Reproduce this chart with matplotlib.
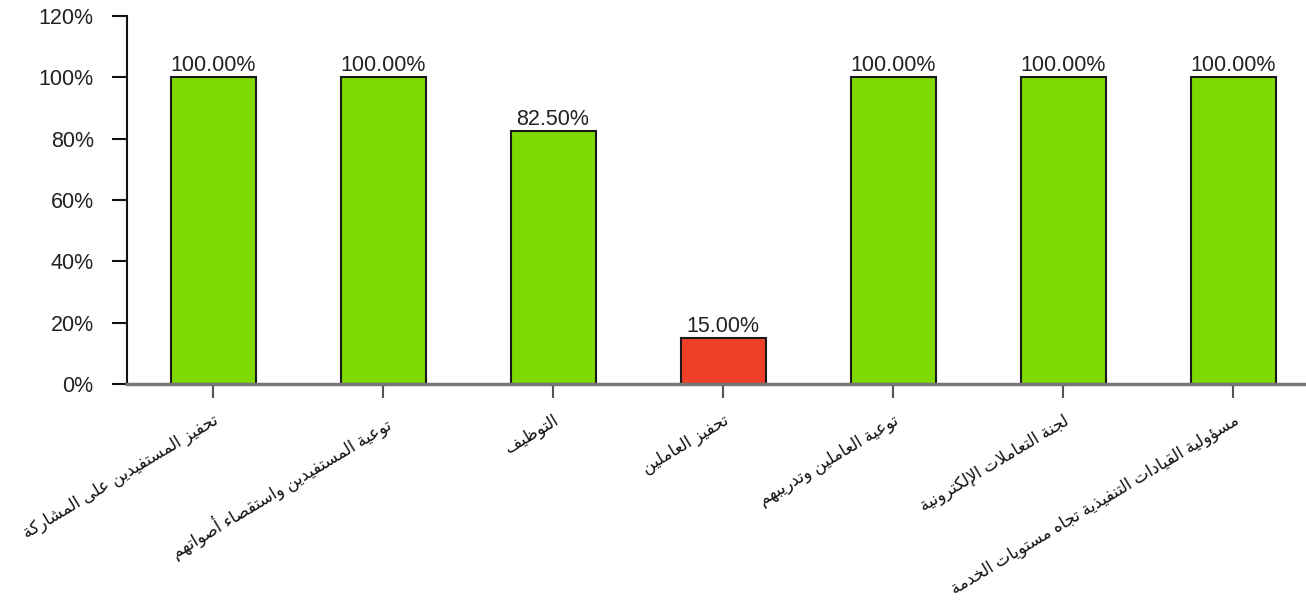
import matplotlib
matplotlib.use("Agg")
import matplotlib.pyplot as plt
import numpy as np

plt.rcParams['font.family'] = ['Liberation Sans', 'DejaVu Sans']

# data
categories = [
    'تحفيز المستفيدين على المشاركة',
    'توعية المستفيدين واستقصاء أصواتهم',
    'التوظيف',
    'تحفيز العاملين',
    'توعية العاملين وتدريبهم',
    'لجنة التعاملات الإلكترونية',
    'مسؤولية القيادات التنفيذية تجاه مستويات الخدمة',
]
values = [100.0, 100.0, 82.5, 15.0, 100.0, 100.0, 100.0]
yticks = [0, 20, 40, 60, 80, 100, 120]

green = '#7ed900'
red = '#f0402a'

# matplotlib does no arabic shaping, so map letters to presentation forms by hand
AR_BASE = {
    'ء': (0xFE80, 1), 'آ': (0xFE81, 2), 'أ': (0xFE83, 2), 'ؤ': (0xFE85, 2),
    'إ': (0xFE87, 2), 'ئ': (0xFE89, 4), 'ا': (0xFE8D, 2), 'ب': (0xFE8F, 4),
    'ة': (0xFE93, 2), 'ت': (0xFE95, 4), 'ث': (0xFE99, 4), 'ج': (0xFE9D, 4),
    'ح': (0xFEA1, 4), 'خ': (0xFEA5, 4), 'د': (0xFEA9, 2), 'ذ': (0xFEAB, 2),
    'ر': (0xFEAD, 2), 'ز': (0xFEAF, 2), 'س': (0xFEB1, 4), 'ش': (0xFEB5, 4),
    'ص': (0xFEB9, 4), 'ض': (0xFEBD, 4), 'ط': (0xFEC1, 4), 'ظ': (0xFEC5, 4),
    'ع': (0xFEC9, 4), 'غ': (0xFECD, 4), 'ف': (0xFED1, 4), 'ق': (0xFED5, 4),
    'ك': (0xFED9, 4), 'ل': (0xFEDD, 4), 'م': (0xFEE1, 4), 'ن': (0xFEE5, 4),
    'ه': (0xFEE9, 4), 'و': (0xFEED, 2), 'ى': (0xFEEF, 2), 'ي': (0xFEF1, 4),
}
LAM_ALEF = {'آ': 0xFEF5, 'أ': 0xFEF7, 'إ': 0xFEF9, 'ا': 0xFEFB}


def shape(text):
    out = []
    i = 0
    n = len(text)
    prev_joins = False
    while i < n:
        c = text[i]
        if c not in AR_BASE:
            out.append(c)
            prev_joins = False
            i += 1
            continue
        if c == 'ل' and i + 1 < n and text[i + 1] in LAM_ALEF:
            out.append(chr(LAM_ALEF[text[i + 1]] + (1 if prev_joins else 0)))
            prev_joins = False
            i += 2
            continue
        base, nf = AR_BASE[c]
        nxt = text[i + 1] if i + 1 < n else ''
        join_next = nf == 4 and nxt in AR_BASE and nxt != 'ء'
        if nf == 1:
            form = 0
        elif prev_joins and join_next:
            form = 3
        elif prev_joins:
            form = 1
        elif join_next:
            form = 2
        else:
            form = 0
        out.append(chr(base + form))
        prev_joins = join_next
        i += 1
    return ''.join(reversed(out))


fig = plt.figure(figsize=(13.06, 6.03), dpi=100)
ax = fig.add_axes([127 / 1306, 219 / 603, 1179 / 1306, 368 / 603])

x = np.arange(len(values))
colors = [red if v < 50 else green for v in values]
bars = ax.bar(x, values, width=0.5, color=colors, edgecolor='#1a1a1a', linewidth=1.5, zorder=2)
ax.bar_label(bars, labels=['{:.2f}%'.format(v) for v in values], padding=1,
             fontsize=15.5, color='#222222')

ax.set_ylim(0, 120)
ax.set_xlim(-0.506, -0.506 + 1179 / 170)
ax.set_yticks(yticks)
ax.set_yticklabels(['{}%'.format(t) for t in yticks], fontsize=15.5, color='#222222')
ax.set_xticks(x)
ax.set_xticklabels([shape(c) for c in categories], rotation=31, ha='right', va='top',
                   rotation_mode='anchor', fontsize=12, color='#111111')

for s in ['top', 'right']:
    ax.spines[s].set_visible(False)
ax.spines['left'].set_color('#111111')
ax.spines['left'].set_linewidth(1.5)
ax.spines['bottom'].set_color('#777777')
ax.spines['bottom'].set_linewidth(2.5)
ax.tick_params(axis='y', length=11, width=1.5, color='#111111', pad=13)
ax.tick_params(axis='x', length=10, width=1.5, color='#555555', pad=10)

fig.savefig('out.png', dpi=100)
